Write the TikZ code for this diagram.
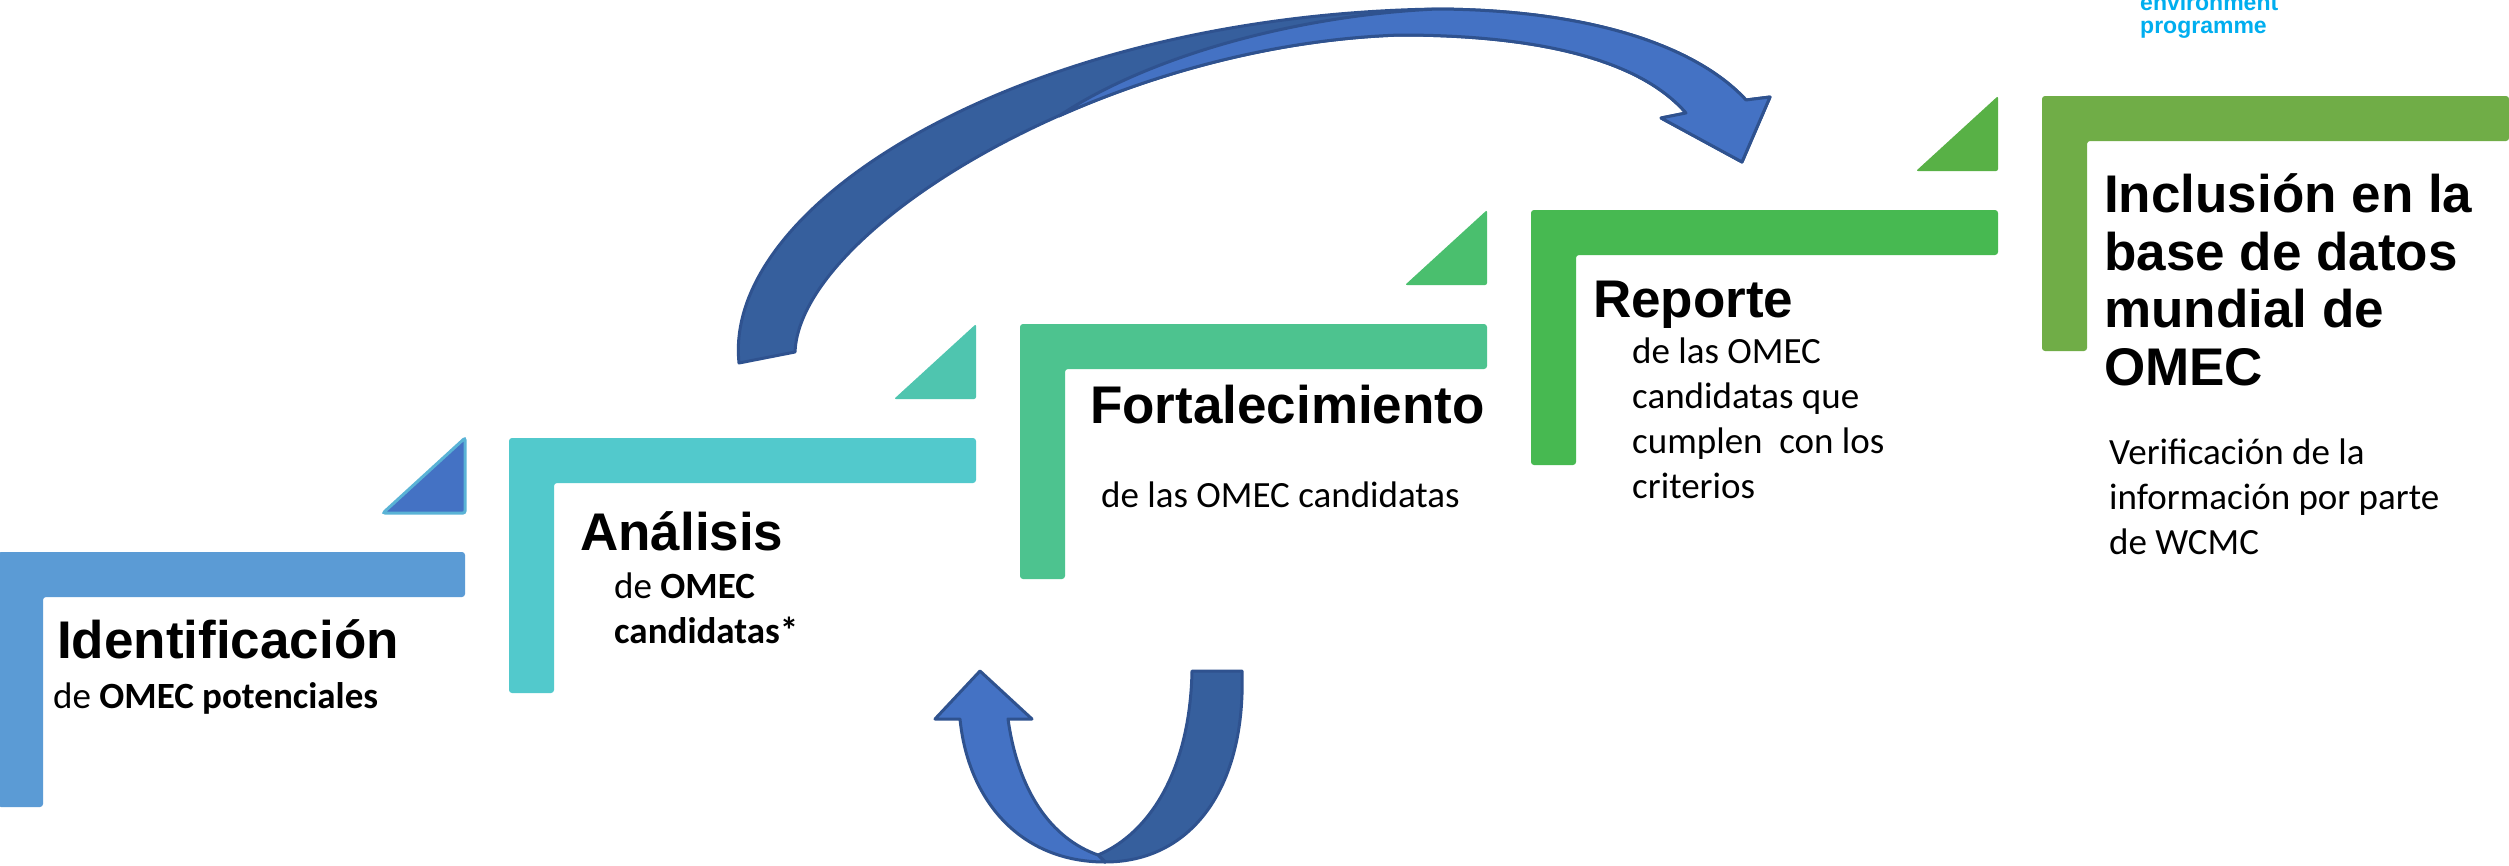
\documentclass[tikz,border=0pt]{standalone}
\usepackage{fontspec}
\setmainfont{Liberation Sans}
\newfontfamily\arialfam{Liberation Sans}
\newfontfamily\calfam{Carlito}
\definecolor{cLa}{HTML}{5B9BD5}
\definecolor{cTaFill}{HTML}{4472C4}
\definecolor{cTaLine}{HTML}{5AB3D6}
\definecolor{cLb}{HTML}{52C9CC}
\definecolor{cTb}{HTML}{4FC5AF}
\definecolor{cLc}{HTML}{4DC38F}
\definecolor{cTc}{HTML}{4ABF6E}
\definecolor{cLd}{HTML}{47B951}
\definecolor{cTd}{HTML}{58B146}
\definecolor{cLe}{HTML}{70AD47}
\definecolor{arrDark}{HTML}{365F9D}
\definecolor{arrLight}{HTML}{4472C4}
\definecolor{arrLine}{HTML}{2F528F}
\definecolor{logoblue}{HTML}{00AEEF}
\begin{document}
\begin{tikzpicture}[x=1pt,y=-1pt,
  titletext/.style={anchor=base west, inner sep=0pt, font=\arialfam\bfseries\fontsize{53}{60}\selectfont},
  subtext/.style={anchor=base west, inner sep=0pt, font=\calfam\fontsize{37}{45}\selectfont},
  logotext/.style={anchor=base west, inner sep=0pt, text=logoblue, font=\arialfam\bfseries\fontsize{23}{23}\selectfont},
  arrowshape/.style={draw=arrLine, line width=3pt, line join=round},
  pics/stepbar/.style={code={\fill[#1, rounded corners=3pt] (0,0) -- (467,0) -- (467,45) -- (45,45) -- (45,255) -- (0,255) -- cycle;}},
  pics/steptri/.style={code={\path[#1, rounded corners=2pt] (0,0) -- (0,75) -- (-82,75) -- cycle;}}
]
\useasboundingbox (0,0) rectangle (2509,865);
\fill[white] (0,0) rectangle (2509,865);

% steps
\pic at (-2,552) {stepbar={cLa}};
\pic at (509,438) {stepbar={cLb}};
\pic at (1020,324) {stepbar={cLc}};
\pic at (1531,210) {stepbar={cLd}};
\pic at (2042,96) {stepbar={cLe}};

% triangles
\pic at (465,438) {steptri={fill=cTaFill, draw=cTaLine, line width=3pt}};
\pic at (976,324) {steptri={fill=cTb}};
\pic at (1487,210) {steptri={fill=cTc}};
\pic at (1998,96) {steptri={fill=cTd}};

% big curved arrow (back part)
\path[arrowshape, fill=arrDark] (739,363) .. controls (722,200) and (1030,15) .. (1437,9)
  .. controls (1600,10) and (1700,50) .. (1746,100) -- (1770,97) -- (1742,162) -- (1661,118) -- (1686,113)
  .. controls (1640,60) and (1540,35) .. (1400,35)
  .. controls (1100,45) and (800,230) .. (795,352) -- cycle;
% big curved arrow (front part)
\path[arrowshape, fill=arrLight] (1059,116) .. controls (1150,55) and (1300,15) .. (1437,9)
  .. controls (1600,10) and (1700,50) .. (1746,100) -- (1770,97) -- (1742,162) -- (1661,118) -- (1686,113)
  .. controls (1640,60) and (1540,35) .. (1400,35)
  .. controls (1280,39) and (1160,71) .. (1059,116) -- cycle;

% small U arrow
\path[arrowshape, fill=arrDark] (1192,671) -- (1242,671) .. controls (1246,790) and (1190,862) .. (1105,862)
  -- (1098,855) .. controls (1150,833) and (1190,770) .. (1192,671) -- cycle;
\path[arrowshape, fill=arrLight] (960,719) -- (935,719) -- (980,671) -- (1032,719) -- (1008,719)
  .. controls (1018,790) and (1050,838) .. (1098,855) -- (1105,862)
  .. controls (1020,862) and (968,800) .. (960,719) -- cycle;

% texts
\node[titletext] (idt) at (57,658) {Identificación};
\node[subtext] (ids) at (53,708) {de \textbf{OMEC potenciales}};
\node[titletext] (ant) at (580,550) {Análisis};
\node[subtext] (ansa) at (614,598) {de \textbf{OMEC}};
\node[subtext] (ansb) at (614,643) {\textbf{candidatas*}};
\node[titletext] (fot) at (1090,423) {Fortalecimiento};
\node[subtext] (fos) at (1101,507) {de las OMEC candidatas};
\node[titletext] (ret) at (1593,317) {Reporte};
\node[subtext] (resa) at (1632,363) {de las OMEC};
\node[subtext] (resb) at (1632,408) {candidatas que};
\node[subtext] (resc) at (1632,453) {cumplen~ con los};
\node[subtext] (resd) at (1632,498) {criterios};
\node[titletext] (inta) at (2104,212) {Inclusión en la};
\node[titletext] (intb) at (2104,270) {base de datos};
\node[titletext] (intc) at (2104,327) {mundial de};
\node[titletext] (intd) at (2104,385) {OMEC};
\node[subtext] (insa) at (2109,464) {Verificación de la};
\node[subtext] (insb) at (2109,509) {información por parte};
\node[subtext] (insc) at (2109,554) {de WCMC};
\node[logotext] (lga) at (2140,10) {environment};
\node[logotext] (lgb) at (2140,33) {programme};
\end{tikzpicture}
\end{document}
